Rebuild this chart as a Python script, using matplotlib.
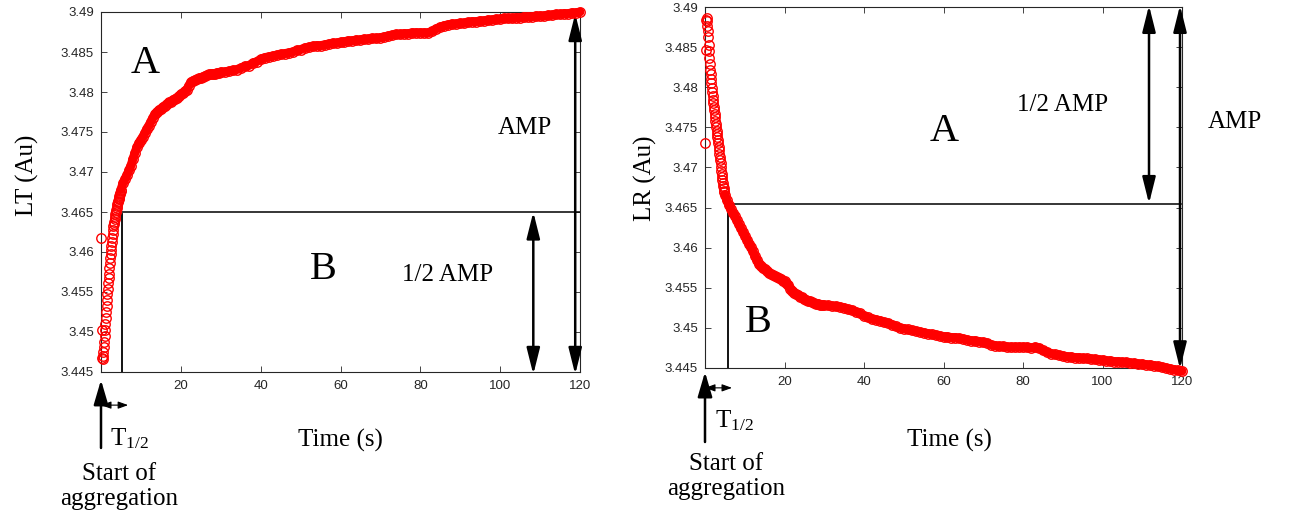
"""Light transmission / reflection aggregation curves with AMP and T1/2 marks."""

import numpy as np
import matplotlib
matplotlib.use("Agg")
import matplotlib.pyplot as plt
from matplotlib.ticker import FuncFormatter

plt.rcParams["font.family"] = ["Liberation Sans", "DejaVu Sans"]
plt.rcParams["mathtext.fontset"] = "custom"
plt.rcParams["mathtext.rm"] = "Liberation Serif"
plt.rcParams["mathtext.it"] = "Liberation Serif:italic"

SERIF = ["Liberation Serif", "DejaVu Serif"]
AX_GRAY = "#262626"

# sample times (s): fast part 0.1 s, middle 0.5 s, slow tail 1 s
t_fast = np.round(np.arange(1, 51) * 0.1, 1)
t_mid = np.arange(11, 61) * 0.5
t_slow = np.arange(31, 121).astype(float)

lt_fast = [3.4617, 3.4503, 3.4468, 3.4466, 3.4470, 3.4475, 3.4481, 3.4488, 3.4495, 3.4503,
           3.4510, 3.4518, 3.4525, 3.4533, 3.4540, 3.4547, 3.4554, 3.4561, 3.4567, 3.4573,
           3.4580, 3.4586, 3.4592, 3.4597, 3.4603, 3.4608, 3.4613, 3.4618, 3.4623, 3.4628,
           3.4632, 3.4635, 3.4638, 3.4641, 3.4644, 3.4647, 3.4650, 3.4652, 3.4655, 3.4657,
           3.4660, 3.4662, 3.4664, 3.4666, 3.4668, 3.4670, 3.4672, 3.4674, 3.4676, 3.4678]
lt_mid = [3.4686, 3.4691, 3.4696, 3.4702, 3.4708, 3.4716, 3.4724, 3.4731, 3.4736, 3.4740,
          3.4744, 3.4749, 3.4754, 3.4758, 3.4763, 3.4768, 3.4772, 3.4775, 3.4777, 3.4779,
          3.4781, 3.4783, 3.4785, 3.4787, 3.4788, 3.4790, 3.4791, 3.4793, 3.4795, 3.4797,
          3.4799, 3.4801, 3.4803, 3.4808, 3.4812, 3.4814, 3.4815, 3.4816, 3.4817, 3.4818,
          3.4819, 3.4820, 3.4821, 3.4822, 3.4822, 3.4823, 3.4823, 3.4824, 3.4824, 3.4825]
lt_slow = [3.4825, 3.4826, 3.4827, 3.4828, 3.4830, 3.4832, 3.4833, 3.4836, 3.4838, 3.4841,
           3.4843, 3.4844, 3.4845, 3.4846, 3.4847, 3.4848, 3.4849, 3.4850, 3.4852, 3.4853,
           3.4855, 3.4856, 3.4857, 3.4858, 3.4858, 3.4859, 3.4860, 3.4861, 3.4861, 3.4862,
           3.4863, 3.4864, 3.4864, 3.4865, 3.4865, 3.4866, 3.4866, 3.4867, 3.4867, 3.4868,
           3.4869, 3.4870, 3.4871, 3.4872, 3.4872, 3.4873, 3.4873, 3.4874, 3.4874, 3.4874,
           3.4874, 3.4874, 3.4876, 3.4879, 3.4881, 3.4883, 3.4884, 3.4885, 3.4885, 3.4886,
           3.4886, 3.4887, 3.4888, 3.4888, 3.4889, 3.4889, 3.4890, 3.4890, 3.4891, 3.4891,
           3.4892, 3.4892, 3.4892, 3.4893, 3.4893, 3.4894, 3.4894, 3.4894, 3.4895, 3.4895,
           3.4895, 3.4896, 3.4896, 3.4897, 3.4897, 3.4898, 3.4898, 3.4899, 3.4899, 3.4900]

lr_fast = [3.4731, 3.4846, 3.4884, 3.4886, 3.4882, 3.4876, 3.4870, 3.4862, 3.4853, 3.4845,
           3.4837, 3.4829, 3.4822, 3.4816, 3.4810, 3.4805, 3.4799, 3.4794, 3.4789, 3.4784,
           3.4780, 3.4775, 3.4771, 3.4767, 3.4763, 3.4758, 3.4754, 3.4750, 3.4746, 3.4742,
           3.4738, 3.4734, 3.4730, 3.4726, 3.4722, 3.4717, 3.4713, 3.4709, 3.4705, 3.4700,
           3.4696, 3.4692, 3.4688, 3.4684, 3.4680, 3.4677, 3.4674, 3.4671, 3.4669, 3.4666]
lr_mid = [3.4659, 3.4653, 3.4648, 3.4643, 3.4639, 3.4634, 3.4629, 3.4624, 3.4620, 3.4615,
          3.4610, 3.4605, 3.4601, 3.4596, 3.4590, 3.4585, 3.4580, 3.4577, 3.4575, 3.4573,
          3.4571, 3.4569, 3.4567, 3.4566, 3.4565, 3.4563, 3.4562, 3.4561, 3.4559, 3.4558,
          3.4556, 3.4553, 3.4549, 3.4546, 3.4544, 3.4542, 3.4541, 3.4539, 3.4538, 3.4536,
          3.4535, 3.4534, 3.4533, 3.4532, 3.4531, 3.4530, 3.4530, 3.4529, 3.4529, 3.4528]
lr_slow = [3.4528, 3.4527, 3.4527, 3.4526, 3.4525, 3.4523, 3.4522, 3.4520, 3.4518, 3.4515,
           3.4513, 3.4511, 3.4510, 3.4509, 3.4507, 3.4506, 3.4504, 3.4502, 3.4500, 3.4499,
           3.4498, 3.4497, 3.4496, 3.4495, 3.4494, 3.4493, 3.4492, 3.4491, 3.4490, 3.4489,
           3.4489, 3.4488, 3.4488, 3.4487, 3.4486, 3.4485, 3.4484, 3.4484, 3.4483, 3.4482,
           3.4481, 3.4479, 3.4478, 3.4477, 3.4477, 3.4476, 3.4476, 3.4476, 3.4476, 3.4476,
           3.4476, 3.4475, 3.4476, 3.4475, 3.4472, 3.4470, 3.4468, 3.4467, 3.4466, 3.4465,
           3.4464, 3.4464, 3.4463, 3.4463, 3.4462, 3.4462, 3.4461, 3.4461, 3.4460, 3.4460,
           3.4459, 3.4459, 3.4458, 3.4458, 3.4457, 3.4457, 3.4456, 3.4456, 3.4455, 3.4455,
           3.4454, 3.4454, 3.4453, 3.4452, 3.4451, 3.4450, 3.4449, 3.4448, 3.4447, 3.4446]

x_ticks = [20, 40, 60, 80, 100, 120]
y_ticks = np.round(np.arange(3.445, 3.4901, 0.005), 3)
Y_MIN, Y_MAX = 3.445, 3.49

# T1/2 marks (time, half-amplitude level)
LT_T_HALF, LT_HALF = 5.3, 3.465
LR_T_HALF, LR_HALF = 5.8, 3.4655


def style_axes(ax):
    ax.set_xlim(0, 120)
    ax.set_ylim(Y_MIN, Y_MAX)
    ax.set_xticks(x_ticks)
    ax.set_yticks(y_ticks)
    ax.yaxis.set_major_formatter(FuncFormatter(lambda v, _: f"{v:g}"))
    ax.tick_params(direction="in", top=True, right=True, length=4, width=0.6,
                   colors=AX_GRAY, labelsize=9.5)
    ax.tick_params(axis="x", pad=6)
    ax.tick_params(axis="y", pad=5)
    for sp in ax.spines.values():
        sp.set_color(AX_GRAY)
        sp.set_linewidth(0.8)


def draw_series(ax, values):
    t = np.concatenate([t_fast, t_mid, t_slow])
    v = np.concatenate([values[0], values[1], values[2]])
    n = len(t_fast)
    ax.plot(t[n - 1:], v[n - 1:], "-", color="red", lw=6.4, solid_capstyle="round",
            clip_on=False, zorder=3)
    ax.plot(t, v, "o", mfc="none", mec="red", ms=6.8, mew=1.0, clip_on=False, zorder=4)


def arrow(ax, p0, p1, style, lw, scale, coords="data"):
    ax.annotate("", xy=p1, xytext=p0, xycoords=coords, textcoords=coords,
                annotation_clip=False,
                arrowprops=dict(arrowstyle=style, lw=lw, color="black",
                                shrinkA=0, shrinkB=0, mutation_scale=scale))


def under_axis(ax, ys, texts):
    """Start-of-aggregation arrow, T1/2 span and captions below the x axis."""
    tr = ax.get_xaxis_transform()
    base, tip, span_y, span_x = ys["arrow"]
    arrow(ax, (0, base), (0, tip), "-|>,head_length=0.75,head_width=0.22", 1.8, 20, tr)
    arrow(ax, (0, span_y), (span_x, span_y), "<|-|>,head_length=0.5,head_width=0.18", 0.8, 12, tr)
    for x, y, s, kw in texts:
        ax.text(x, y, s, transform=tr, family=SERIF, fontsize=18, **kw)


W, H = 1294, 527
fig = plt.figure(figsize=(W / 100, H / 100), dpi=100)
ax1 = fig.add_axes([101 / W, 1 - 372 / H, 479 / W, 360 / H])
ax2 = fig.add_axes([705 / W, 1 - 368 / H, 477 / W, 361 / H])

# ---- left panel: LT ----
style_axes(ax1)
draw_series(ax1, (lt_fast, lt_mid, lt_slow))
ax1.plot([LT_T_HALF, 120], [LT_HALF, LT_HALF], color="black", lw=1.1, zorder=2)
ax1.plot([LT_T_HALF, LT_T_HALF], [Y_MIN, LT_HALF - 0.0002], color="black", lw=1.3, zorder=2)
big = "<|-|>,head_length=0.8,head_width=0.2"
arrow(ax1, (108.3, Y_MIN - 0.0003), (108.3, LT_HALF), big, 1.8, 20)
arrow(ax1, (118.8, Y_MIN - 0.0003), (118.8, 3.4898), big, 1.8, 20)
ax1.text(11, 3.4836, "A", family=SERIF, fontsize=29, ha="center", va="center")
ax1.text(55.6, 3.4578, "B", family=SERIF, fontsize=29, ha="center", va="center")
ax1.text(106.3, 3.4755, "AMP", family=SERIF, fontsize=18, ha="center", va="center")
ax1.text(86.7, 3.4571, "1/2 AMP", family=SERIF, fontsize=18, ha="center", va="center")
under_axis(ax1, {"arrow": (-0.211, -0.022, -0.092, 6.8)}, [
    (2.2, -0.186, r"T$_{\mathregular{1/2}}$", dict(ha="left", va="center")),
    (4.6, -0.318, "Start of\naggregation", dict(ha="center", va="center", linespacing=1.2)),
    (60, -0.189, "Time (s)", dict(ha="center", va="center")),
])
fig.text(27 / W, 1 - 175 / H, "LT (Au)", rotation=90, ha="center", va="center",
         family=SERIF, fontsize=18)

# ---- right panel: LR ----
style_axes(ax2)
draw_series(ax2, (lr_fast, lr_mid, lr_slow))
ax2.plot([LR_T_HALF - 0.3, 119.7], [LR_HALF, LR_HALF], color="black", lw=1.1, zorder=2)
ax2.plot([LR_T_HALF, LR_T_HALF], [Y_MIN, LR_HALF], color="black", lw=1.3, zorder=2)
arrow(ax2, (111.7, LR_HALF), (111.7, 3.4902), big, 1.8, 20)
arrow(ax2, (119.5, Y_MIN - 0.0001), (119.5, 3.4902), big, 1.8, 20)
ax2.text(60.1, 3.4745, "A", family=SERIF, fontsize=29, ha="center", va="center")
ax2.text(13.3, 3.4507, "B", family=SERIF, fontsize=29, ha="center", va="center")
ax2.text(90, 3.4778, "1/2 AMP", family=SERIF, fontsize=18, ha="center", va="center")
ax2.text(133.3, 3.4757, "AMP", family=SERIF, fontsize=18, ha="center", va="center")
under_axis(ax2, {"arrow": (-0.205, -0.011, -0.055, 6.8)}, [
    (2.5, -0.145, r"T$_{\mathregular{1/2}}$", dict(ha="left", va="center")),
    (5.3, -0.300, "Start of\naggregation", dict(ha="center", va="center", linespacing=1.2)),
    (61.6, -0.2, "Time (s)", dict(ha="center", va="center")),
])
fig.text(645 / W, 1 - 178 / H, "LR (Au)", rotation=90, ha="center", va="center",
         family=SERIF, fontsize=18)

fig.savefig("out.png", dpi=100)
plt.close(fig)
